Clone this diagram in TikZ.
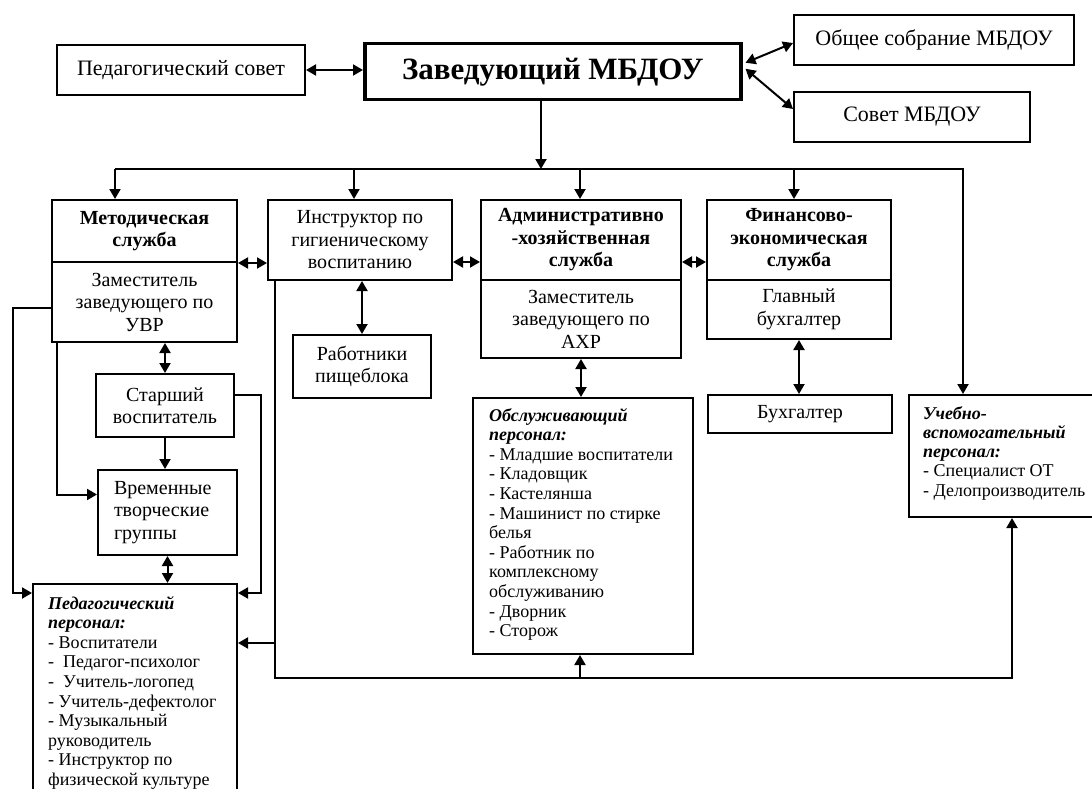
\documentclass[tikz,border=0pt]{standalone}
\usepackage{fontspec}
\setmainfont{Liberation Serif}
\usetikzlibrary{arrows.meta,calc}
\begin{document}
\begin{tikzpicture}[x=1pt,y=-1pt,
  ln/.style={line width=2pt},
  box/.style={draw, line width=2pt, inner sep=0pt, align=center, anchor=north west,
    font=\fontsize{20}{22.5}\selectfont},
  tbox/.style={box, font=\fontsize{22}{24}\selectfont},
  bbox/.style={box, font=\fontsize{20}{22.5}\selectfont\bfseries},
  lbox/.style={box, align=left},
  lst/.style={inner sep=0pt, align=left, anchor=north west, font=\fontsize{18}{19.6}\selectfont},
  arr/.style={ln, -{Triangle[length=10pt,width=11pt]}},
  darr/.style={ln, {Triangle[length=10pt,width=11pt]}-{Triangle[length=10pt,width=11pt]}}
]
\useasboundingbox (0,0) rectangle (1092,789);

% top row
\node[tbox, minimum width=248pt, minimum height=50pt] (ped) at (56,44) {Педагогический совет};
\node[box, line width=3.5pt, minimum width=376pt, minimum height=56pt,
  font=\fontsize{31}{34}\selectfont\bfseries] (zav) at (363,42) {Заведующий МБДОУ};
\node[tbox, minimum width=280pt, minimum height=50pt] (obsh) at (793,14) {Общее собрание МБДОУ};
\node[tbox, minimum width=236pt, minimum height=50pt] (sovet) at (793,91) {Совет МБДОУ};

% second row
\node[bbox, minimum width=185pt, minimum height=62pt] (metT) at (51,199) {Методическая\\служба};
\node[box, minimum width=185pt, minimum height=80pt] (metB) at (51,261) {Заместитель\\заведующего по\\УВР};
\node[box, minimum width=184pt, minimum height=80pt] (instr) at (267,199) {Инструктор по\\гигиеническому\\воспитанию};
\node[box, minimum width=138pt, minimum height=63pt] (pish) at (292,334) {Работники\\пищеблока};
\node[bbox, minimum width=200pt, minimum height=80pt] (admT) at (480,199) {Административно\\-хозяйственная\\служба};
\node[box, minimum width=200pt, minimum height=78pt] (admB) at (480,279) {Заместитель\\заведующего по\\АХР};
\node[bbox, minimum width=184pt, minimum height=80pt] (finT) at (706,199) {Финансово-\\экономическая\\служба};
\node[box, minimum width=184pt, minimum height=59pt] (finB) at (706,279) {Главный\\бухгалтер};
\node[box, minimum width=184pt, minimum height=38pt] (buh) at (707,394) {Бухгалтер};

% left column
\node[box, minimum width=138pt, minimum height=63pt] (star) at (95,373) {Старший\\воспитатель};
\node[lbox, inner xsep=16pt, text width=107pt, minimum height=85pt] (vrem) at (97,469) {Временные\\творческие\\группы};

% staff boxes
\node[box, minimum width=204pt, minimum height=225pt] (pedp) at (32,583) {};
\node[lst] (pedpT) at (48,596) {\textbf{\textit{Педагогический}}\\\textbf{\textit{персонал:}}\\- Воспитатели\\- \ Педагог-психолог\\- \ Учитель-логопед\\- Учитель-дефектолог\\- Музыкальный\\руководитель\\- Инструктор по\\физической культуре};
\node[box, minimum width=220pt, minimum height=256pt] (obsl) at (472,397) {};
\node[lst] (obslT) at (489,408) {\textbf{\textit{Обслуживающий}}\\\textbf{\textit{персонал:}}\\- Младшие воспитатели\\- Кладовщик\\- Кастелянша\\- Машинист по стирке\\белья\\- Работник по\\комплексному\\обслуживанию\\- Дворник\\- Сторож};
\node[box, minimum width=200pt, minimum height=122pt] (ucheb) at (908,394) {};
\node[lst, font=\fontsize{18}{19.3}\selectfont] (uchebT) at (923,406) {\textbf{\textit{Учебно-}}\\\textbf{\textit{вспомогательный}}\\\textbf{\textit{персонал:}}\\- Специалист ОТ\\- Делопроизводитель};

% top connectors
\draw[darr] (ped.east) -- (ped.east -| zav.west);
\draw[darr] ([xshift=3pt,yshift=9pt]zav.east) -- ([yshift=-3pt]obsh.west);
\draw[darr] ([xshift=3pt,yshift=3pt]zav.east) -- ([yshift=8pt]sovet.west);

% main bus
\coordinate (b0) at (541,169);
\coordinate (b1) at (115,169);
\coordinate (b2) at (354,169);
\coordinate (b3) at (580,169);
\coordinate (b4) at (794,169);
\coordinate (b5) at (963,169);
\draw[arr] (b0 |- zav.south) -- (b0);
\draw[arr] (b1) -- (b5) -- (b5 |- ucheb.north);
\draw[arr] (b1) -- (b1 |- metT.north);
\draw[arr] (b2) -- (b2 |- instr.north);
\draw[arr] (b3) -- (b3 |- admT.north);
\draw[arr] (b4) -- (b4 |- finT.north);

% horizontal links between services
\coordinate (hy) at (0,262);
\draw[darr] (metT.south east) -- (metT.south east -| instr.west);
\draw[darr] (instr.east |- hy) -- (admT.west |- hy);
\draw[darr] (admT.east |- hy) -- (finT.west |- hy);

% vertical links
\draw[darr] (pish.north) -- (pish.north |- instr.south);
\draw[darr] (star.north) -- (star.north |- metB.south);
\draw[arr] (star.south) -- (star.south |- vrem.north);
\draw[darr] (vrem.south) -- (vrem.south |- pedp.north);
\draw[darr] (admB.south) -- (admB.south |- obsl.north);
\draw[darr] (finB.south) -- (finB.south |- buh.north);

% side lines to pedagogical staff
\draw[arr] ([yshift=-6pt]metB.west) -- ++(-38,0) |- ([yshift=-10pt]pedp.north west);
\draw[arr] ([xshift=6pt]metB.south west) |- ([yshift=18pt]vrem.west);
\draw[arr] ([yshift=11pt]star.east) -- ++(26,0) |- ([yshift=-10pt]pedp.north east);

% bottom bus
\coordinate (c1) at (275,678);
\coordinate (c2) at (1012,678);
\coordinate (c3) at (580,678);
\coordinate (c4) at (275,643);
\draw[arr] (instr.south -| c1) -- (c1) -- (c2) -- (c2 |- ucheb.south);
\draw[arr] (c3) -- (c3 |- obsl.south);
\draw[arr] (c4) -- (c4 -| pedp.east);
\end{tikzpicture}
\end{document}
